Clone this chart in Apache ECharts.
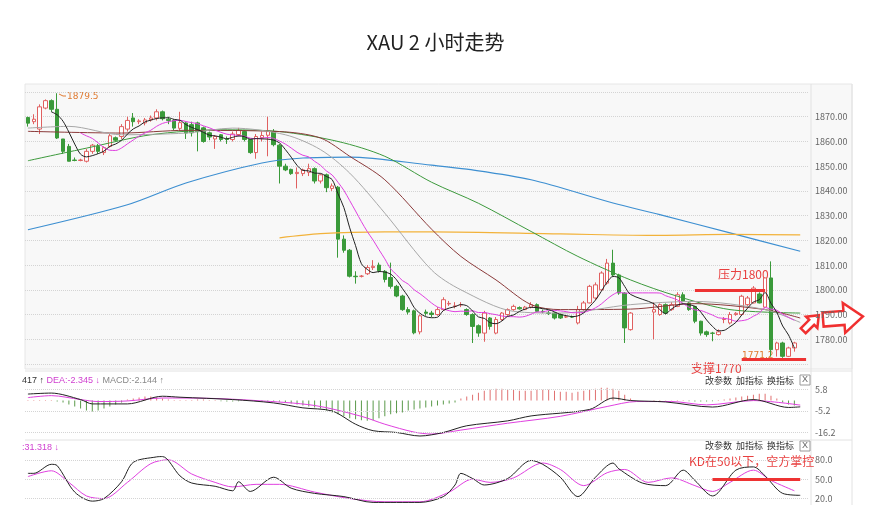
<!DOCTYPE html>
<html>
<head>
<meta charset="utf-8">
<script src="https://cdn.jsdelivr.net/npm/echarts@6/dist/echarts.min.js"></script>
<style>
  html, body { margin: 0; padding: 0; background: #fff; }
  #chart { width: 871px; height: 509px; }
</style>
</head>
<body>
<div id="chart"></div>
<script>
'use strict';

// candles: [open, close, low, high], '-' = no bar
var candles = [
  [1869.7,1867.4,1866,1870],[1868,1869,1867,1871],[1865,1874,1863,1875],[1873.5,1876.5,1873,1877],
  [1876.5,1873,1872,1877],[1873,1861.4,1861,1879.5],[1861,1856,1855,1861],[1858,1852,1852,1859],
  [1852.5,1852.3,1852,1853.5],[1852.3,1852.5,1852,1853],[1852,1856,1851.5,1857],[1856,1858.5,1855,1859],
  [1858,1856,1855,1859],[1855.5,1857.5,1854.5,1858],[1858,1862.3,1857.5,1863],[1861.5,1860.5,1860,1862],
  [1862,1866,1861,1867],[1865,1868.5,1864,1870],[1869.5,1868,1866,1871.5],[1868,1868.3,1867,1869],
  [1867.5,1868.7,1866.5,1869.5],[1868.8,1869.5,1868,1870.5],[1869.5,1872,1868.5,1873],[1872,1869.2,1868.5,1872.5],
  [1869,1868.5,1867,1870],[1868.5,1865.4,1864.5,1869],[1865.3,1867.6,1864.5,1872],[1867.5,1863.4,1861,1868],
  [1866.8,1863.5,1862,1868],[1867.5,1864,1856,1868],[1865.5,1860,1859.5,1866],[1863.5,1861.8,1860.5,1864],
  [1861,1862,1857,1862.5],[1862.7,1860.8,1860,1863],[1861,1860.8,1859,1862],[1860.8,1863,1860,1864],
  [1862.8,1864.5,1862,1865.5],[1864,1860.8,1860,1864.5],[1860.8,1855.5,1855,1861],[1855.5,1862,1853,1863],
  [1861.5,1862.4,1860,1864],[1862.5,1864,1854,1870],[1864,1858.7,1858,1865],[1858.5,1850,1843,1859],
  [1850,1848.5,1848,1851],[1848.7,1847,1846.5,1849],[1847,1847.5,1841,1849.5],[1847,1848.5,1846,1849],
  [1847.5,1849,1846,1851],[1849,1844,1843,1849.5],[1844,1846.5,1843,1847],[1846.5,1841.3,1839.5,1847],
  [1841,1842,1840,1843],[1841.5,1820.5,1813,1842],[1820.5,1816,1815,1822],[1816,1805.5,1805,1816.5],
  [1805.5,1805.3,1802.5,1807.5],[1805.5,1805.5,1805,1806],[1806.5,1809,1806,1810],[1809,1809.5,1808,1812],
  [1810,1807.7,1807,1811],[1807.5,1804.2,1803,1808],[1805,1801.4,1800.5,1811],[1801.4,1797.5,1797,1802],
  [1797.5,1792,1791.5,1798],[1792,1791,1790,1793],[1791.5,1782.6,1782,1792],[1783,1789.5,1782,1790],
  [1791,1790.5,1789.5,1792],[1790.6,1790,1789,1791.5],[1790,1792,1789.5,1793],[1792,1796,1791.5,1797],
  [1794.3,1794.5,1793.5,1795.5],[1793.3,1793.5,1792.5,1795],[1794,1794,1793,1795],[1792,1790,1789.5,1792.5],
  [1790,1785.2,1778.5,1790.5],[1785.5,1782.5,1781,1786],[1782.5,1790.6,1779,1791.5],[1788.6,1785.2,1783.9,1789],
  [1782.5,1788,1782,1789],[1788,1790.6,1787.5,1791],[1790,1792,1789.5,1792.5],[1792,1793.3,1791.5,1794],
  [1792.8,1792.3,1792,1793.3],[1792,1793,1791.8,1793.5],[1793,1794,1792.5,1795],[1794,1791.3,1791,1794.5],
  [1791.3,1791.1,1790.5,1792],[1790.6,1790.5,1789.8,1791.5],[1790.6,1788.6,1788,1791],[1790,1788.6,1788.2,1790.5],
  [1789,1789.1,1788.6,1789.5],[1789,1789,1788.6,1789.6],[1786.6,1792,1786,1793.5],[1792,1794.7,1791.5,1795.5],
  [1794.7,1801.4,1794.5,1802],[1796.7,1802,1796,1803],[1800,1806.8,1799.5,1807.5],[1802.7,1810.8,1802,1812.5],
  [1810.8,1806,1805.5,1816.2],[1806,1798.7,1798,1806.5],[1798.7,1784.6,1778.5,1799],[1783.9,1790.6,1783.5,1791],
  '-','-','-',
  [1791,1792,1780,1795],[1790,1794,1789.5,1794.5],[1794,1790.6,1790,1794.5],[1792,1794,1791.5,1795],
  [1793.3,1798,1793,1799],[1798,1795.3,1795,1799],[1794.7,1792,1791.5,1795],[1793.3,1787.3,1786.5,1793.5],
  [1787.3,1782.5,1781.5,1787.5],[1783,1781.9,1781,1783.5],[1782.5,1782.4,1779.2,1783],[1781.9,1783,1781.5,1784],
  [1788,1788.2,1786.5,1789],[1786.6,1790,1786,1791],[1790,1790.5,1789.5,1791],[1790,1797.4,1789.5,1798],
  [1794,1796.7,1793.5,1797.5],[1794.7,1800.7,1794.5,1801.5],[1798.3,1794.7,1794.5,1799],[1793,1804.8,1792.5,1805],
  [1804.8,1775.8,1773,1811.5],[1775.8,1778.5,1773,1779],[1778.5,1773.1,1772.5,1779],[1773.1,1776.5,1772.8,1777],
  [1776.5,1778.5,1775,1779],
  '-','-'
];

// longer averages: [index, value]
var maGray = [[0,1865.4],[7,1866.1],[16,1862.7],[27,1863.4],[35,1865.4],[44,1862.7],[50,1856.7],[55,1847.2],[61,1831],[69,1808],[74,1800],[83,1791.3],[91,1790.6],[103,1794],[114,1795.3],[126,1792],[132,1786.8]];
var maBrown = [[0,1864.1],[16,1863.4],[27,1864.5],[43,1864],[50,1861.4],[55,1854],[61,1844.5],[69,1824.5],[74,1813.5],[80,1804],[86,1794],[91,1792],[103,1792.2],[114,1794.4],[126,1792],[132,1788.6]];
var maGreen = [[0,1852.2],[10,1857.3],[21,1862.7],[33,1864.7],[43,1864],[53,1860],[61,1854],[69,1843.5],[77,1835],[86,1823.6],[94,1813.5],[103,1804],[111,1797.4],[120,1792],[132,1790.6]];
var maBlue = [[0,1824.3],[17,1834.4],[27,1843.2],[40,1851.3],[47,1853.3],[55,1853.7],[69,1850.4],[75,1848.8],[86,1844.5],[100,1835.1],[108,1830.4],[120,1823],[132,1815.6]];
var maYellow = [[43,1821],[50,1822.7],[61,1823.4],[69,1823.4],[91,1822.6],[108,1822],[120,1822.4],[132,1822.2]];

var priceTicks = [1780, 1790, 1800, 1810, 1820, 1830, 1840, 1850, 1860, 1870];

// MACD panel
var macdDif = [[0,3.3],[4,3.8],[9,0.5],[11,-1.7],[17,-1.7],[23,2.2],[26,1.7],[35,0.5],[42,-1.2],[47,-3.7],[52,-5.3],[56,-12],[59,-15.3],[63,-16.2],[67,-18],[71,-16.2],[75,-12.8],[82,-10.3],[86,-7.8],[96,-4.5],[100,1.3],[103,0],[109,-0.7],[117,-3.3],[124,0.5],[130,-3.5],[132,-3.2]];
var macdDea = [[0,1.5],[4,2.5],[9,0.5],[12,-0.5],[17,-0.2],[23,1.3],[30,1.2],[39,0],[49,-2.5],[57,-8],[61,-12],[66,-16],[69,-17],[74,-15],[82,-11.5],[91,-8],[99,-3],[104,-0.5],[110,-0.5],[116,-2.2],[124,0],[132,-2.3]];
var macdBars = [
  0.3,0.3,0.3,0.3,0.3,-0.5,
  -1,-2,-3,-4,-5,-5.5,-5,-4,-3,-2,-1,
  0.5,1,1.5,2,2,1.5,1,0.5,0.3,
  0.3,0.3,0.3,0.5,0.5,0.3,0.3,-0.3,-0.5,-0.5,-0.3,0.3,0.3,-0.3,-0.3,-0.5,-0.5,-0.5,
  -1,-1.5,-2,-2.5,-3,-3.5,-4,-5,-6,-7,-8,-9,-9.5,-10,-10.3,-10,-9,-8,-7,-6.5,-6,-5,-4.5,-4,-3.5,-3,-2.5,-2,-1.5,-1,
  1,2,3,4,5,5.5,6,6,5.5,5.5,5,5,5,5.5,5.5,5.5,5,4.5,4.5,4,4.5,5,5.5,6,6.5,6.5,6,5,3,1,
  '-','-','-',
  0.3,0.3,0.2,0.2,0.3,0.3,-0.3,-0.5,-0.5,-0.5,-0.3,0.3,
  0.5,1,1.5,2,2.5,3,3.5,3.5,2.5,1,
  -1,-2,-2.5,
  '-','-'
];
var macdTicks = [5.8, -5.2, -16.2];

// KD panel
var kdK = [[0,59],[1,59],[4,73],[5,71],[8,30],[11,16],[13,20],[16,46],[18,76],[22,84.5],[23,85],[26,55],[28,44],[32,39],[35,32],[36,46],[38,31],[42,53],[45,36],[49,28],[54,23],[59,14],[63,14],[67,14],[71,23],[73,41],[74,59],[76,51],[78,41],[82,51],[86,79],[88,73],[91,53],[94,23],[97,53],[100,75],[101,66],[105,44],[109,40],[112,64],[114,48],[117,24],[121,64],[124,69],[126,55],[129,28],[132,25]];
var kdD = [[0,54],[4,63],[7,45],[10,24],[13,20],[17,45],[21,74],[24,80],[28,58],[32,45],[35,38],[39,42],[43,42],[49,30],[55,20],[61,15],[67,15],[72,30],[76,50],[79,45],[83,52],[88,75],[91,65],[95,40],[99,60],[102,65],[106,45],[110,52],[114,40],[117,31],[120,45],[124,64],[127,48],[131,32]];
var kdTicks = [80, 50, 20];

var categories = candles.map(function (c, i) { return String(i); });

function calculateMA(dayCount) {
  var closes = [];
  var result = [];
  for (var i = 0; i < candles.length; i++) {
    if (candles[i] === '-') { result.push('-'); continue; }
    closes.push(candles[i][1]);
    if (closes.length < dayCount) { result.push('-'); continue; }
    var sum = 0;
    for (var j = closes.length - dayCount; j < closes.length; j++) sum += closes[j];
    result.push(+(sum / dayCount).toFixed(2));
  }
  return result;
}

function lineSeries(data, color, grid, width) {
  return {
    type: 'line', data: data, xAxisIndex: grid, yAxisIndex: grid,
    symbol: 'none', smooth: 0.3, connectNulls: true, silent: true,
    lineStyle: { color: color, width: width || 1 }
  };
}

function tickLines(values, fmt) {
  return {
    symbol: 'none', silent: true,
    lineStyle: { color: '#d4d4d4', type: 'dotted', width: 1 },
    label: { position: 'end', color: '#666', fontSize: 9, distance: 6, formatter: function (p) { return p.value.toFixed(fmt); } },
    data: values.map(function (v) { return { yAxis: v }; })
  };
}

var redLine = { color: '#ee3333', width: 3, type: 'solid' };
var labelFont = 'Noto Sans CJK SC';

var option = {
  animation: false,
  backgroundColor: '#ffffff',
  textStyle: { fontFamily: labelFont },
  title: {
    text: 'XAU 2 小时走势', left: 'center', top: 27,
    textStyle: { fontSize: 20, fontWeight: 'normal', color: '#222', fontFamily: labelFont }
  },
  grid: [
    { left: 25, right: 62, top: 92, height: 272 },
    { left: 25, right: 62, top: 372, height: 65 },
    { left: 25, right: 62, top: 443, height: 62 }
  ],
  xAxis: [0, 1, 2].map(function (g) {
    return { type: 'category', gridIndex: g, data: categories, boundaryGap: true, show: false };
  }),
  yAxis: [
    {
      gridIndex: 0, type: 'value', position: 'right', min: 1770, max: 1880, interval: 10,
      axisLine: { show: false }, axisTick: { show: false },
      splitLine: { lineStyle: { color: '#d4d4d4', type: 'dotted' } },
      axisLabel: {
        color: '#666', fontSize: 9, margin: 6,
        formatter: function (v) { return priceTicks.indexOf(v) >= 0 ? v.toFixed(2) : ''; }
      }
    },
    { gridIndex: 1, type: 'value', min: -18.5, max: 14.5, show: false, splitLine: { show: false } },
    { gridIndex: 2, type: 'value', min: 10, max: 106, show: false, splitLine: { show: false } }
  ],
  series: [
    {
      type: 'candlestick', data: candles, xAxisIndex: 0, yAxisIndex: 0, barWidth: 4, silent: true,
      itemStyle: { color: '#ffffff', color0: '#3a9a3a', borderColor: '#e06060', borderColor0: '#3a9a3a', borderWidth: 1 },
      markLine: {
        symbol: 'none', silent: true, lineStyle: redLine, label: { show: false },
        data: [
          [{ coord: [114, 1800] }, { coord: [126, 1800] }],
          [{ coord: [122, 1772] }, { coord: [133, 1772] }]
        ]
      }
    },
    lineSeries(maBlue, '#3d8fd1', 0, 1.2),
    lineSeries(maYellow, '#f2b23a', 0, 1.2),
    lineSeries(maGreen, '#3d9a3d', 0),
    lineSeries(maBrown, '#8b3a3a', 0),
    lineSeries(maGray, '#a8a8a8', 0),
    lineSeries(calculateMA(10), '#e040e0', 0),
    lineSeries(calculateMA(5), '#222222', 0),
    {
      type: 'bar', data: macdBars, xAxisIndex: 1, yAxisIndex: 1, barWidth: 1, silent: true,
      itemStyle: { color: function (p) { return p.value >= 0 ? '#e07070' : '#5a9a4a'; } },
      markLine: tickLines(macdTicks, 1)
    },
    lineSeries(macdDea, '#e040e0', 1),
    lineSeries(macdDif, '#222222', 1),
    (function () {
      var s = lineSeries(kdD, '#e040e0', 2);
      s.markLine = tickLines(kdTicks, 1);
      return s;
    })(),
    (function () {
      var s = lineSeries(kdK, '#222222', 2);
      s.markLine = {
        symbol: 'none', silent: true, lineStyle: redLine, label: { show: false },
        data: [[{ coord: [117, 50] }, { coord: [132, 50] }]]
      };
      return s;
    })()
  ],
  graphic: [
    // panel backgrounds and frames
    { type: 'rect', z: -10, shape: { x: 25, y: 84, width: 827, height: 285 }, style: { fill: '#f8f8f8', stroke: '#e6e6e6' } },
    { type: 'line', z: -9, shape: { x1: 811, y1: 84, x2: 811, y2: 505 }, style: { stroke: '#e2e2e2' } },
    { type: 'line', z: -9, shape: { x1: 25, y1: 371, x2: 852, y2: 371 }, style: { stroke: '#e2e2e2' } },
    { type: 'line', z: -9, shape: { x1: 25, y1: 440, x2: 852, y2: 440 }, style: { stroke: '#e2e2e2' } },
    { type: 'line', z: -9, shape: { x1: 852, y1: 84, x2: 852, y2: 505 }, style: { stroke: '#e2e2e2' } },
    // high marker
    { type: 'polyline', shape: { points: [[59, 94], [63, 96], [66, 96]] }, style: { stroke: '#e07a30', lineWidth: 1, fill: null } },
    { type: 'text', x: 67, y: 92, style: { text: '1879.5', fill: '#e07a30', fontSize: 9, fontFamily: 'DejaVu Sans' } },
    { type: 'text', x: 742, y: 351, style: { text: '1771.2', fill: '#e07a30', fontSize: 9, fontFamily: 'DejaVu Sans' } },
    // notes
    { type: 'text', x: 718, y: 268, style: { text: '压力1800', fill: '#e84040', fontSize: 12, fontFamily: labelFont } },
    { type: 'text', x: 691, y: 362, style: { text: '支撑1770', fill: '#e84040', fontSize: 12, fontFamily: labelFont } },
    { type: 'text', x: 689, y: 455, style: { text: 'KD在50以下，空方掌控', fill: '#e84040', fontSize: 12, fontFamily: labelFont } },
    // arrows
    {
      type: 'polygon', x: 811, y: 323, rotation: Math.PI / 4,
      shape: { points: [[-11, -3.5], [1, -3.5], [1, -8], [11, 0], [1, 8], [1, 3.5], [-11, 3.5]] },
      style: { fill: '#ffffff', stroke: '#f03030', lineWidth: 2.5 }
    },
    {
      type: 'polygon', x: 843, y: 318, rotation: 0.08,
      shape: { points: [[-20, -7], [1, -7], [1, -15], [20, 0], [1, 15], [1, 7], [-20, 7]] },
      style: { fill: '#ffffff', stroke: '#f03030', lineWidth: 2.5 }
    },
    // indicator headers
    {
      type: 'text', x: 22, y: 376,
      style: {
        text: '{k|417 ↑} {m|DEA:-2.345 ↓} {g|MACD:-2.144 ↑}', fontSize: 9,
        rich: { k: { fill: '#333', fontSize: 9 }, m: { fill: '#d040d0', fontSize: 9 }, g: { fill: '#888', fontSize: 9 } }
      }
    },
    { type: 'text', x: 22, y: 443, style: { text: ':31.318 ↓', fill: '#d040d0', fontSize: 9 } },
    { type: 'text', x: 705, y: 376, style: { text: '改参数  加指标  换指标', fill: '#333', fontSize: 9, fontFamily: labelFont } },
    { type: 'text', x: 705, y: 441, style: { text: '改参数  加指标  换指标', fill: '#333', fontSize: 9, fontFamily: labelFont } },
    { type: 'rect', shape: { x: 800, y: 375, width: 10, height: 10 }, style: { fill: '#fff', stroke: '#999' } },
    { type: 'text', x: 802, y: 375, style: { text: 'X', fill: '#666', fontSize: 9 } },
    { type: 'rect', shape: { x: 800, y: 441, width: 10, height: 10 }, style: { fill: '#fff', stroke: '#999' } },
    { type: 'text', x: 802, y: 441, style: { text: 'X', fill: '#666', fontSize: 9 } }
  ]
};

var myChart = echarts.init(document.getElementById('chart'));
myChart.setOption(option);
</script>
</body>
</html>
